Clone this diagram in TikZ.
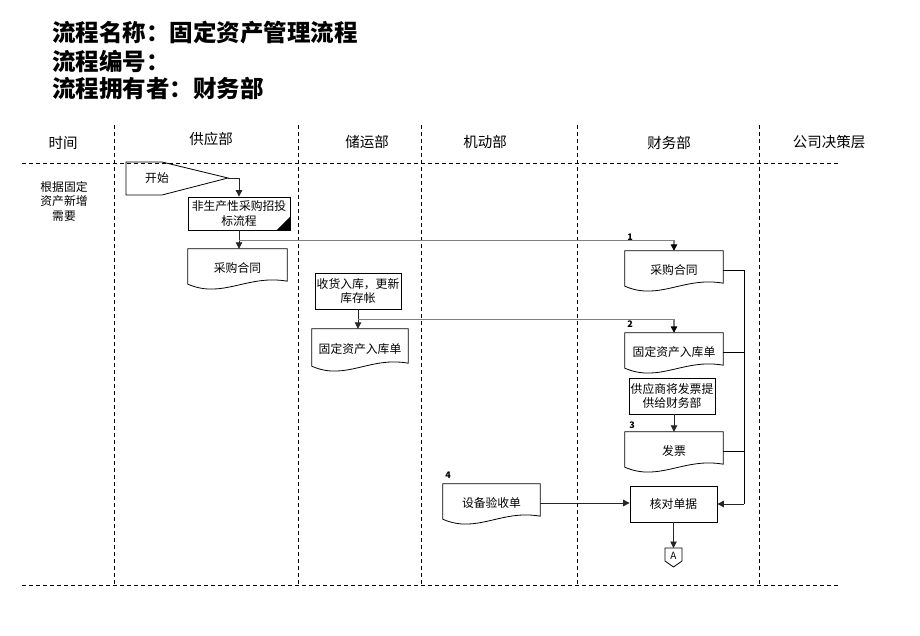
\documentclass[tikz,border=0pt]{standalone}
\usepackage{fontspec}
\setmainfont{Noto Sans CJK SC}
\usetikzlibrary{calc,arrows.meta,shapes.symbols}
\tikzset{
  base/.style={font=\fontsize{11.8}{14.5}\selectfont},
  procbox/.style={base,draw,line width=0.8pt,align=center,inner sep=1pt},
  docbox/.style={base,draw=none,align=center,inner sep=1pt},
  lane/.style={line width=0.8pt,dash pattern=on 4pt off 3pt},
  flow/.style={line width=0.9pt,black!85,-{Triangle[length=6.5pt,width=6.5pt]}},
  branch/.style={line width=1.4pt,black!50,-{Triangle[length=6.5pt,width=6.5pt,black]}},
  joinline/.style={line width=0.8pt,black},
  hdr/.style={font=\fontsize{14.5}{16}\selectfont},
  num/.style={font=\bfseries\fontsize{9}{10}\selectfont},
  docline/.style={line width=0.8pt}
}
\newcommand\docshape[1]{%
  \draw[docline] (#1.north west) -- (#1.north east) -- ($(#1.south east)+(0,-6)$)
    .. controls ($(#1.south west)!0.6!(#1.south east)+(0,-13)$) and ($(#1.south west)!0.35!(#1.south east)+(0,12)$) ..
    ($(#1.south west)+(0,-3)$) -- cycle;}
\begin{document}
\begin{tikzpicture}[x=1pt,y=-1pt]
\useasboundingbox (0,0) rectangle (920,636);
% titles
\node[anchor=west,font=\bfseries\fontsize{23.5}{26}\selectfont,inner sep=0] (t1) at (52,33) {流程名称：固定资产管理流程};
\node[anchor=west,font=\bfseries\fontsize{23.5}{26}\selectfont,inner sep=0] (t2) at (52,61) {流程编号：};
\node[anchor=west,font=\bfseries\fontsize{23.5}{26}\selectfont,inner sep=0] (t3) at (52,89) {流程拥有者：财务部};
% lanes
\foreach \x in {114,298,421,577,759} \draw[lane] (\x,125) -- (\x,585);
\draw[lane] (22,163) -- (840,163);
\draw[lane] (22,585) -- (840,585);
% headers
\node[hdr] (h0) at (63,143) {时间};
\node[hdr] (h1) at (211,139) {供应部};
\node[hdr] (h2) at (367,142) {储运部};
\node[hdr] (h3) at (485,142) {机动部};
\node[hdr] (h4) at (669,143) {财务部};
\node[hdr] (h5) at (829,142) {公司决策层};
% time text
\node[base,align=center] (tm) at (64,201) {根据固定\\资产新增\\需要};
% start
\draw[line width=0.8pt] (126,162) -- (162,162) -- (228,178) -- (162,195) -- (126,195) -- cycle;
\coordinate (startpt) at (228,178);
\node[base] (start) at (157,178) {开始};
% boxes
\node[procbox,minimum width=102,minimum height=33] (b1) at (239,213.5) {非生产性采购招投\\标流程};
\fill (b1.south east) -- ++(-14,0) -- ++(14,-14) -- cycle;
\node[procbox,minimum width=86,minimum height=36] (b2) at (358,291) {收货入库，更新\\库存帐};
\node[procbox,minimum width=86,minimum height=36] (b3) at (672,396) {供应商将发票提\\供给财务部};
\node[procbox,minimum width=87,minimum height=36] (b4) at (673.5,504) {核对单据};
% documents
\node[docbox,minimum width=99,minimum height=38] (d1) at (237.5,268) {采购合同};
\node[docbox,minimum width=98,minimum height=38] (d2) at (674,270) {采购合同};
\node[docbox,minimum width=96,minimum height=40] (d3) at (360,349) {固定资产入库单};
\node[docbox,minimum width=98,minimum height=38] (d4) at (674,352) {固定资产入库单};
\node[docbox,minimum width=98,minimum height=38] (d5) at (674,451) {发票};
\node[docbox,minimum width=97,minimum height=38] (d6) at (491.5,503) {设备验收单};
\foreach \d in {d1,d2,d3,d4,d5,d6} \docshape{\d};
% off-page connector
\draw[line width=0.8pt] (665,548) -- (682,548) -- (682,561) -- (673.5,567) -- (665,561) -- cycle;
\node[font=\fontsize{10}{11}\selectfont,inner sep=0] (A) at (673.5,556) {A};
\coordinate (Atop) at (673.5,548);
% numbers
\node[num] (n1) at (630,237) {1};
\node[num] (n2) at (630,324) {2};
\node[num] (n3) at (632,425) {3};
\node[num] (n4) at (448,475) {4};
% connectors
\draw[flow] (startpt) -| (b1.north);
\draw[flow] (b1.south) -- (b1.south |- d1.north);
\draw[branch] ($(b1.south)+(0,10)$) -| (d2.north);
\draw[flow] (b2.south) -- (b2.south |- d3.north);
\draw[branch] ($(b2.south)+(0,10)$) -| (d4.north);
\draw[flow] ($(b3.south)+(2,0)$) -- (d5.north);
\draw[joinline] (d2.east) -- ++(21,0) coordinate (cr) -- (cr |- b4.east);
\draw[joinline] (d4.east) -- (d4.east -| cr);
\draw[joinline] (d5.east) -- (d5.east -| cr);
\draw[flow] (cr |- b4.east) -- (b4.east);
\draw[flow] (d6.east) -- (d6.east -| b4.west);
\draw[flow] (b4.south) -- (Atop);
\end{tikzpicture}
\end{document}
